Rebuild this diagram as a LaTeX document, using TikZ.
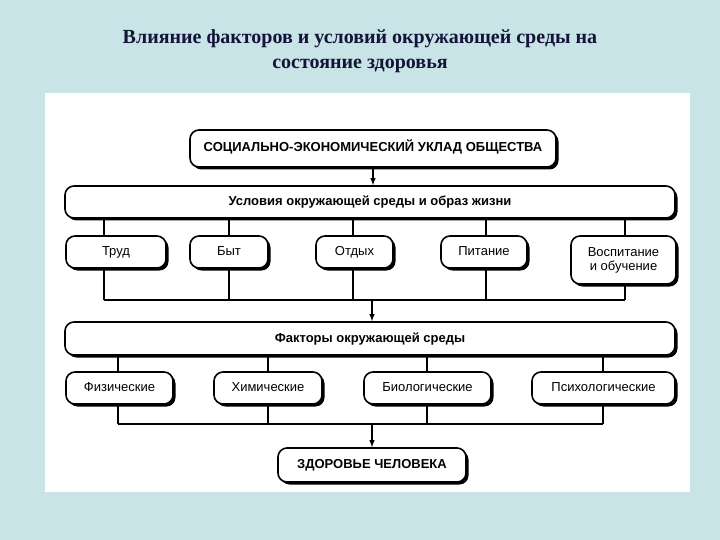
\documentclass[tikz,border=0pt]{standalone}
\usepackage{fontspec}
\setmainfont{Liberation Sans}
\newfontfamily\titlefont{Liberation Serif}
\begin{document}
\begin{tikzpicture}[x=1pt,y=-1pt,
 bx/.style={draw,line width=1.6pt,rounded corners=9pt,fill=white,inner sep=0pt,font=\fontsize{13}{14}\selectfont},
 one/.style={text height=9.5pt,text depth=2.5pt},
 ln/.style={line width=1.6pt},
 ar/.style={line width=1.4pt,-latex}]
\definecolor{bg}{HTML}{C8E4E6}
\definecolor{tt}{HTML}{14143A}
\fill[bg] (0,0) rectangle (720,540);
\fill[white] (45,93) rectangle (690,492);
\node[font=\titlefont\bfseries\fontsize{20}{25}\selectfont,text=tt,align=center] (title) at (360,51) {Влияние факторов и условий окружающей среды на\\состояние здоровья};
\newcommand{\mybox}[6]{%
 \fill[rounded corners=9pt] (#2+2.5,#3+2.5) rectangle (#4+2.5,#5+2.5);
 \node[bx,one,minimum width=#4-#2,minimum height=#5-#3] (#1) at ({(#2+#4)/2},{(#3+#5)/2}) {#6};}
\mybox{top}{190}{130}{556}{167}{\textbf{СОЦИАЛЬНО-ЭКОНОМИЧЕСКИЙ УКЛАД ОБЩЕСТВА}}
\mybox{b1}{65}{186}{675}{218}{\textbf{Условия окружающей среды и образ жизни}}
\mybox{trud}{66}{236}{166}{268}{Труд}
\mybox{byt}{190}{236}{268}{268}{Быт}
\mybox{otd}{316}{236}{393}{268}{Отдых}
\mybox{pit}{441}{236}{527}{268}{Питание}
\fill[rounded corners=9pt] (573.5,238.5) rectangle (678.5,286.5);
\node[bx,align=center,minimum width=105,minimum height=48] (vos) at (623.5,260) {Воспитание\\и обучение};
\mybox{b2}{65}{322}{675}{355}{\textbf{Факторы окружающей среды}}
\mybox{fiz}{66}{372}{173}{404}{Физические}
\mybox{him}{214}{372}{322}{404}{Химические}
\mybox{bio}{364}{372}{491}{404}{Биологические}
\mybox{psi}{532}{372}{675}{404}{Психологические}
\mybox{zd}{278}{448}{466}{482}{\textbf{ЗДОРОВЬЕ ЧЕЛОВЕКА}}
\coordinate (j1) at (372,300);
\coordinate (j2) at (372,424);
\draw[ar] (top.south) -- (b1.north -| top.south);
\foreach \n/\x in {trud/104,byt/229,otd/353,pit/486,vos/625}{
 \draw[ln] (\x,218) -- (\n.north -| \x,0);
 \draw[ln] (\n.south -| \x,0) -- (\x,300);}
\draw[ln] (104,300) -- (625,300);
\draw[ar] (j1) -- (b2.north -| j1);
\foreach \n/\x in {fiz/118,him/268,bio/427,psi/603}{
 \draw[ln] (\x,355) -- (\n.north -| \x,0);
 \draw[ln] (\n.south -| \x,0) -- (\x,424);}
\draw[ln] (118,424) -- (603,424);
\draw[ar] (j2) -- (zd.north -| j2);
\end{tikzpicture}
\end{document}
